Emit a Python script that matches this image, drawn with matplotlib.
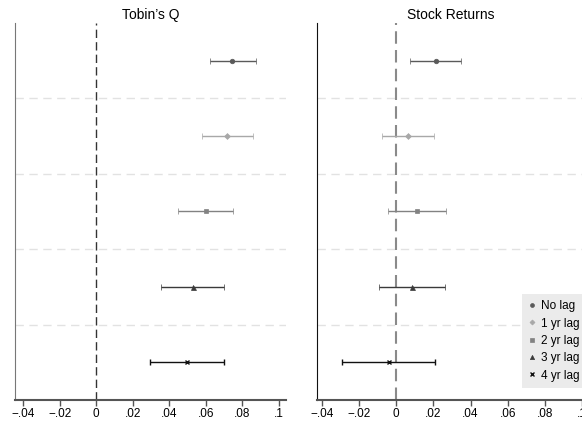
import matplotlib.pyplot as plt
from matplotlib.ticker import FuncFormatter
from matplotlib.lines import Line2D

plt.rcParams['font.family'] = ['Liberation Sans', 'DejaVu Sans']

lags = ['No lag', '1 yr lag', '2 yr lag', '3 yr lag', '4 yr lag']
markers = ['o', 'D', 's', '^', 'x']
colors = ['#5a5a5a', '#a8a8a8', '#828282', '#3a3a3a', '#111111']

# point estimates with 95% bounds
q_est = [0.0744, 0.0717, 0.0600, 0.0529, 0.0498]
q_lo = [0.0620, 0.0580, 0.0449, 0.0357, 0.0295]
q_hi = [0.0873, 0.0855, 0.0748, 0.0700, 0.0700]

ret_est = [0.0214, 0.0063, 0.0111, 0.0084, -0.0040]
ret_lo = [0.0076, -0.0074, -0.0045, -0.0092, -0.0289]
ret_hi = [0.0351, 0.0202, 0.0266, 0.0261, 0.0211]

ticks = [-0.04, -0.02, 0, 0.02, 0.04, 0.06, 0.08, 0.1]
msizes = [3.3, 3.0, 3.2, 3.6, 2.6]


def fmt(v, pos):
    if abs(v) < 1e-9:
        return '0'
    s = ('%g' % v).replace('0.', '.')
    return s.replace('-', '\u2212')


def draw_panel(ax, est, lo, hi, title, zero_color, zero_lw, spine_color):
    for i in range(len(lags)):
        y = i + 1
        ax.errorbar(est[i], y, xerr=[[est[i] - lo[i]], [hi[i] - est[i]]],
                    fmt=markers[i], color=colors[i], ms=msizes[i],
                    mew=1.0 if markers[i] == 'x' else 0.5,
                    elinewidth=1.0, capsize=2.5, capthick=1.0, zorder=3)
    for g in [1.5, 2.5, 3.5, 4.5]:
        ax.axhline(g, color='#e2e2e2', lw=1.0, ls=(0, (6, 4)), zorder=1)
    ax.axvline(0, color=zero_color, lw=zero_lw, ls=(0, (6, 3)), zorder=2)
    ax.set_ylim(5.5, 0.5)
    ax.set_yticks([])
    ax.set_xticks(ticks)
    ax.xaxis.set_major_formatter(FuncFormatter(fmt))
    ax.tick_params(axis='x', labelsize=8.5, length=4, width=1.0, color='#555555', pad=2)
    ax.spines['top'].set_visible(False)
    ax.spines['right'].set_visible(False)
    ax.spines['left'].set_color(spine_color)
    ax.spines['bottom'].set_color('#555555')
    ax.spines['bottom'].set_linewidth(1.5)
    ax.set_title(title, fontsize=10, pad=3)


fig = plt.figure(figsize=(5.82, 4.22), dpi=100)
ax1 = fig.add_axes([15 / 582, 22 / 422, 271 / 582, 377 / 422])
ax2 = fig.add_axes([317 / 582, 22 / 422, 268 / 582, 377 / 422])

ax1.set_xlim(-0.0444, 0.1038)
ax2.set_xlim(-0.0425, 0.1015)

draw_panel(ax1, q_est, q_lo, q_hi, "Tobin\u2019s Q", '#333333', 1.0, '#777777')
draw_panel(ax2, ret_est, ret_lo, ret_hi, 'Stock Returns', '#8a8a8a', 1.5, '#111111')

handles = [Line2D([], [], ls='none', marker=m, color=c, ms=s * 0.85, mew=1.0 if m == 'x' else 0.5)
           for m, c, s in zip(markers, colors, msizes)]
leg = ax2.legend(handles, lags, loc='lower left', bbox_to_anchor=(522 / 582, 34 / 422),
                 bbox_transform=fig.transFigure, fontsize=8.5, frameon=True,
                 handlelength=0.6, handletextpad=0.45, labelspacing=0.45,
                 borderpad=0.55, borderaxespad=0)
leg.get_frame().set_facecolor('#ebebeb')
leg.get_frame().set_edgecolor('none')
leg.get_frame().set_alpha(1)
leg.get_frame().set_boxstyle('square', pad=0)

fig.savefig('out.png', dpi=100, facecolor='white')
